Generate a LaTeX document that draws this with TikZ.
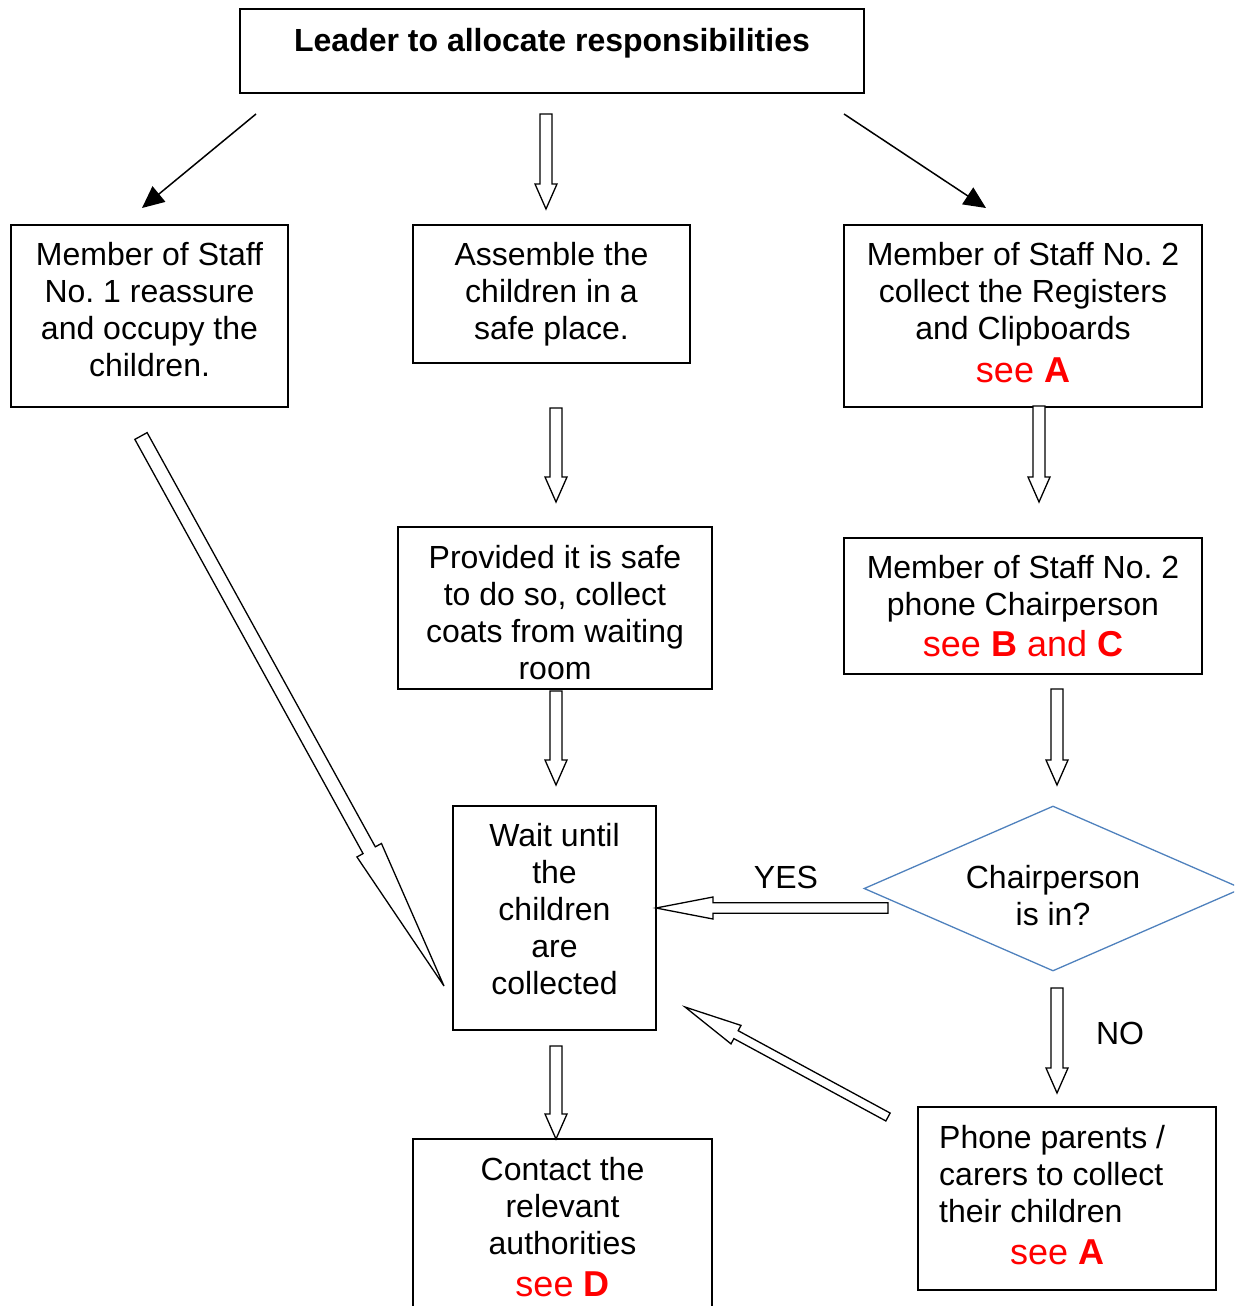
\documentclass[tikz,border=0pt]{standalone}
\usepackage{fontspec}
\setmainfont{Liberation Sans}
\usetikzlibrary{shapes.geometric,arrows.meta,calc}
\frenchspacing
\definecolor{dblue}{HTML}{4F81BD}
\definecolor{seered}{HTML}{FF0000}
\newcommand\seeA{{\color{seered}\fontsize{36}{41}\selectfont see \textbf{A}}}
\newcommand\hollowarrow[5]{%
  \draw[harrow] let \p1=(#1), \p2=(#2),
     \n1={atan2(\y2-\y1,\x2-\x1)}, \n2={veclen(\x2-\x1,\y2-\y1)} in
     [shift={(\p1)}, rotate=\n1]
     (0pt,#3pt) -- ({\n2*1pt-#5pt},#3pt) -- ({\n2*1pt-#5pt},#4pt) -- ({\n2*1pt},0pt)
     -- ({\n2*1pt-#5pt},-#4pt) -- ({\n2*1pt-#5pt},-#3pt) -- (0pt,-#3pt) -- cycle;}
\tikzset{
  boxnode/.style={draw, line width=1.3pt, inner sep=0pt},
  txt/.style={inner sep=0pt, align=center, anchor=north, font=\fontsize{32}{36.8}\selectfont},
  harrow/.style={draw, line width=1.3pt, fill=white, line join=miter},
  solidarrow/.style={line width=1.5pt, -{Triangle[length=22pt,width=20pt]}},
}
\begin{document}
\begin{tikzpicture}[x=1pt,y=-1pt]
\useasboundingbox (0,0) rectangle (1234,1306);
\clip (0,0) rectangle (1234,1306);
% boxes
\node[boxnode, minimum width=624pt, minimum height=84pt] (title) at (552,51) {};
\node[boxnode, minimum width=277pt, minimum height=182pt] (b1) at (149.5,316) {};
\node[boxnode, minimum width=277pt, minimum height=138pt] (b2) at (551.5,294) {};
\node[boxnode, minimum width=358pt, minimum height=182pt] (b3) at (1023,316) {};
\node[boxnode, minimum width=314pt, minimum height=162pt] (b4) at (555,608) {};
\node[boxnode, minimum width=358pt, minimum height=136pt] (b5) at (1023,606) {};
\node[boxnode, minimum width=203pt, minimum height=224pt] (b6) at (554.5,918) {};
\node[boxnode, minimum width=298pt, minimum height=183pt] (b7) at (1067,1198.5) {};
\node[boxnode, minimum width=299pt, minimum height=191pt] (b8) at (562.5,1234.5) {};
\node[draw=dblue, line width=1.3pt, diamond, inner sep=0pt, minimum width=378pt, minimum height=165pt] (dia) at (1053,888.5) {};
% texts
\node[txt, font=\bfseries\fontsize{32}{36.8}\selectfont] (titlet) at (552,28.5) {Leader to allocate responsibilities};
\node[txt] (t1) at (149.5,242.5) {Member of Staff\\No. 1 reassure\\and occupy the\\children.};
\node[txt] (t2) at (551.5,242.5) {Assemble the\\children in a\\safe place.};
\node[txt] (t3) at (1023,242.5) {Member of Staff No. 2\\collect the Registers\\and Clipboards\\[6pt]\seeA};
\node[txt] (t4) at (555,545.5) {Provided it is safe\\to do so, collect\\coats from waiting\\room};
\node[txt] (t5) at (1023,555.5) {Member of Staff No. 2\\phone Chairperson\\[4pt]{\color{seered}\fontsize{36}{41}\selectfont see \textbf{B} and \textbf{C}}};
\node[txt] (t6) at (554.5,823.5) {Wait until\\the\\children\\are\\collected};
\node[txt, align=left, anchor=north west] (t7) at (939,1125.5) {Phone parents /\\carers to collect\\their children\\[5pt]\hspace*{71pt}\seeA};
\node[txt] (t8) at (562.5,1157.5) {Contact the\\relevant\\authorities\\[5pt]{\color{seered}\fontsize{36}{41}\selectfont see \textbf{D}}};
\node[txt] (tdia) at (1053,865.5) {Chairperson\\is in?};
\node[txt, anchor=center] (yes) at (786,877) {YES};
\node[txt, anchor=center] (no) at (1120,1033) {NO};
% solid arrows
\coordinate (s1a) at (256,114); \coordinate (s1b) at (142,208);
\coordinate (s2a) at (844,114); \coordinate (s2b) at (986,208);
\draw[solidarrow] (s1a) -- (s1b);
\draw[solidarrow] (s2a) -- (s2b);
% hollow arrows
\coordinate (h1a) at (546,114);  \coordinate (h1b) at (546,209);
\coordinate (h2a) at (556,408);  \coordinate (h2b) at (556,502);
\coordinate (h3a) at (1039,406); \coordinate (h3b) at (1039,502);
\coordinate (h4a) at (556,691);  \coordinate (h4b) at (556,785);
\coordinate (h5a) at (1057,689); \coordinate (h5b) at (1057,785);
\coordinate (h6a) at (556,1046); \coordinate (h6b) at (556,1139);
\coordinate (h7a) at (1057,988); \coordinate (h7b) at (1057,1093);
\coordinate (h8a) at (888,908);  \coordinate (h8b) at (656,908);
\coordinate (h9a) at (888,1117); \coordinate (h9b) at (685,1007);
\coordinate (h10a) at (141,436); \coordinate (h10b) at (444,986);
\hollowarrow{h1a}{h1b}{6}{11}{25}
\hollowarrow{h2a}{h2b}{6}{11}{25}
\hollowarrow{h3a}{h3b}{6}{11}{25}
\hollowarrow{h4a}{h4b}{6}{11}{25}
\hollowarrow{h5a}{h5b}{6}{11}{25}
\hollowarrow{h6a}{h6b}{6}{11}{25}
\hollowarrow{h7a}{h7b}{6}{11}{25}
\hollowarrow{h8a}{h8b}{5.3}{11}{57}
\hollowarrow{h9a}{h9b}{4.5}{10.5}{58}
\hollowarrow{h10a}{h10b}{7}{14}{155}
\end{tikzpicture}
\end{document}
